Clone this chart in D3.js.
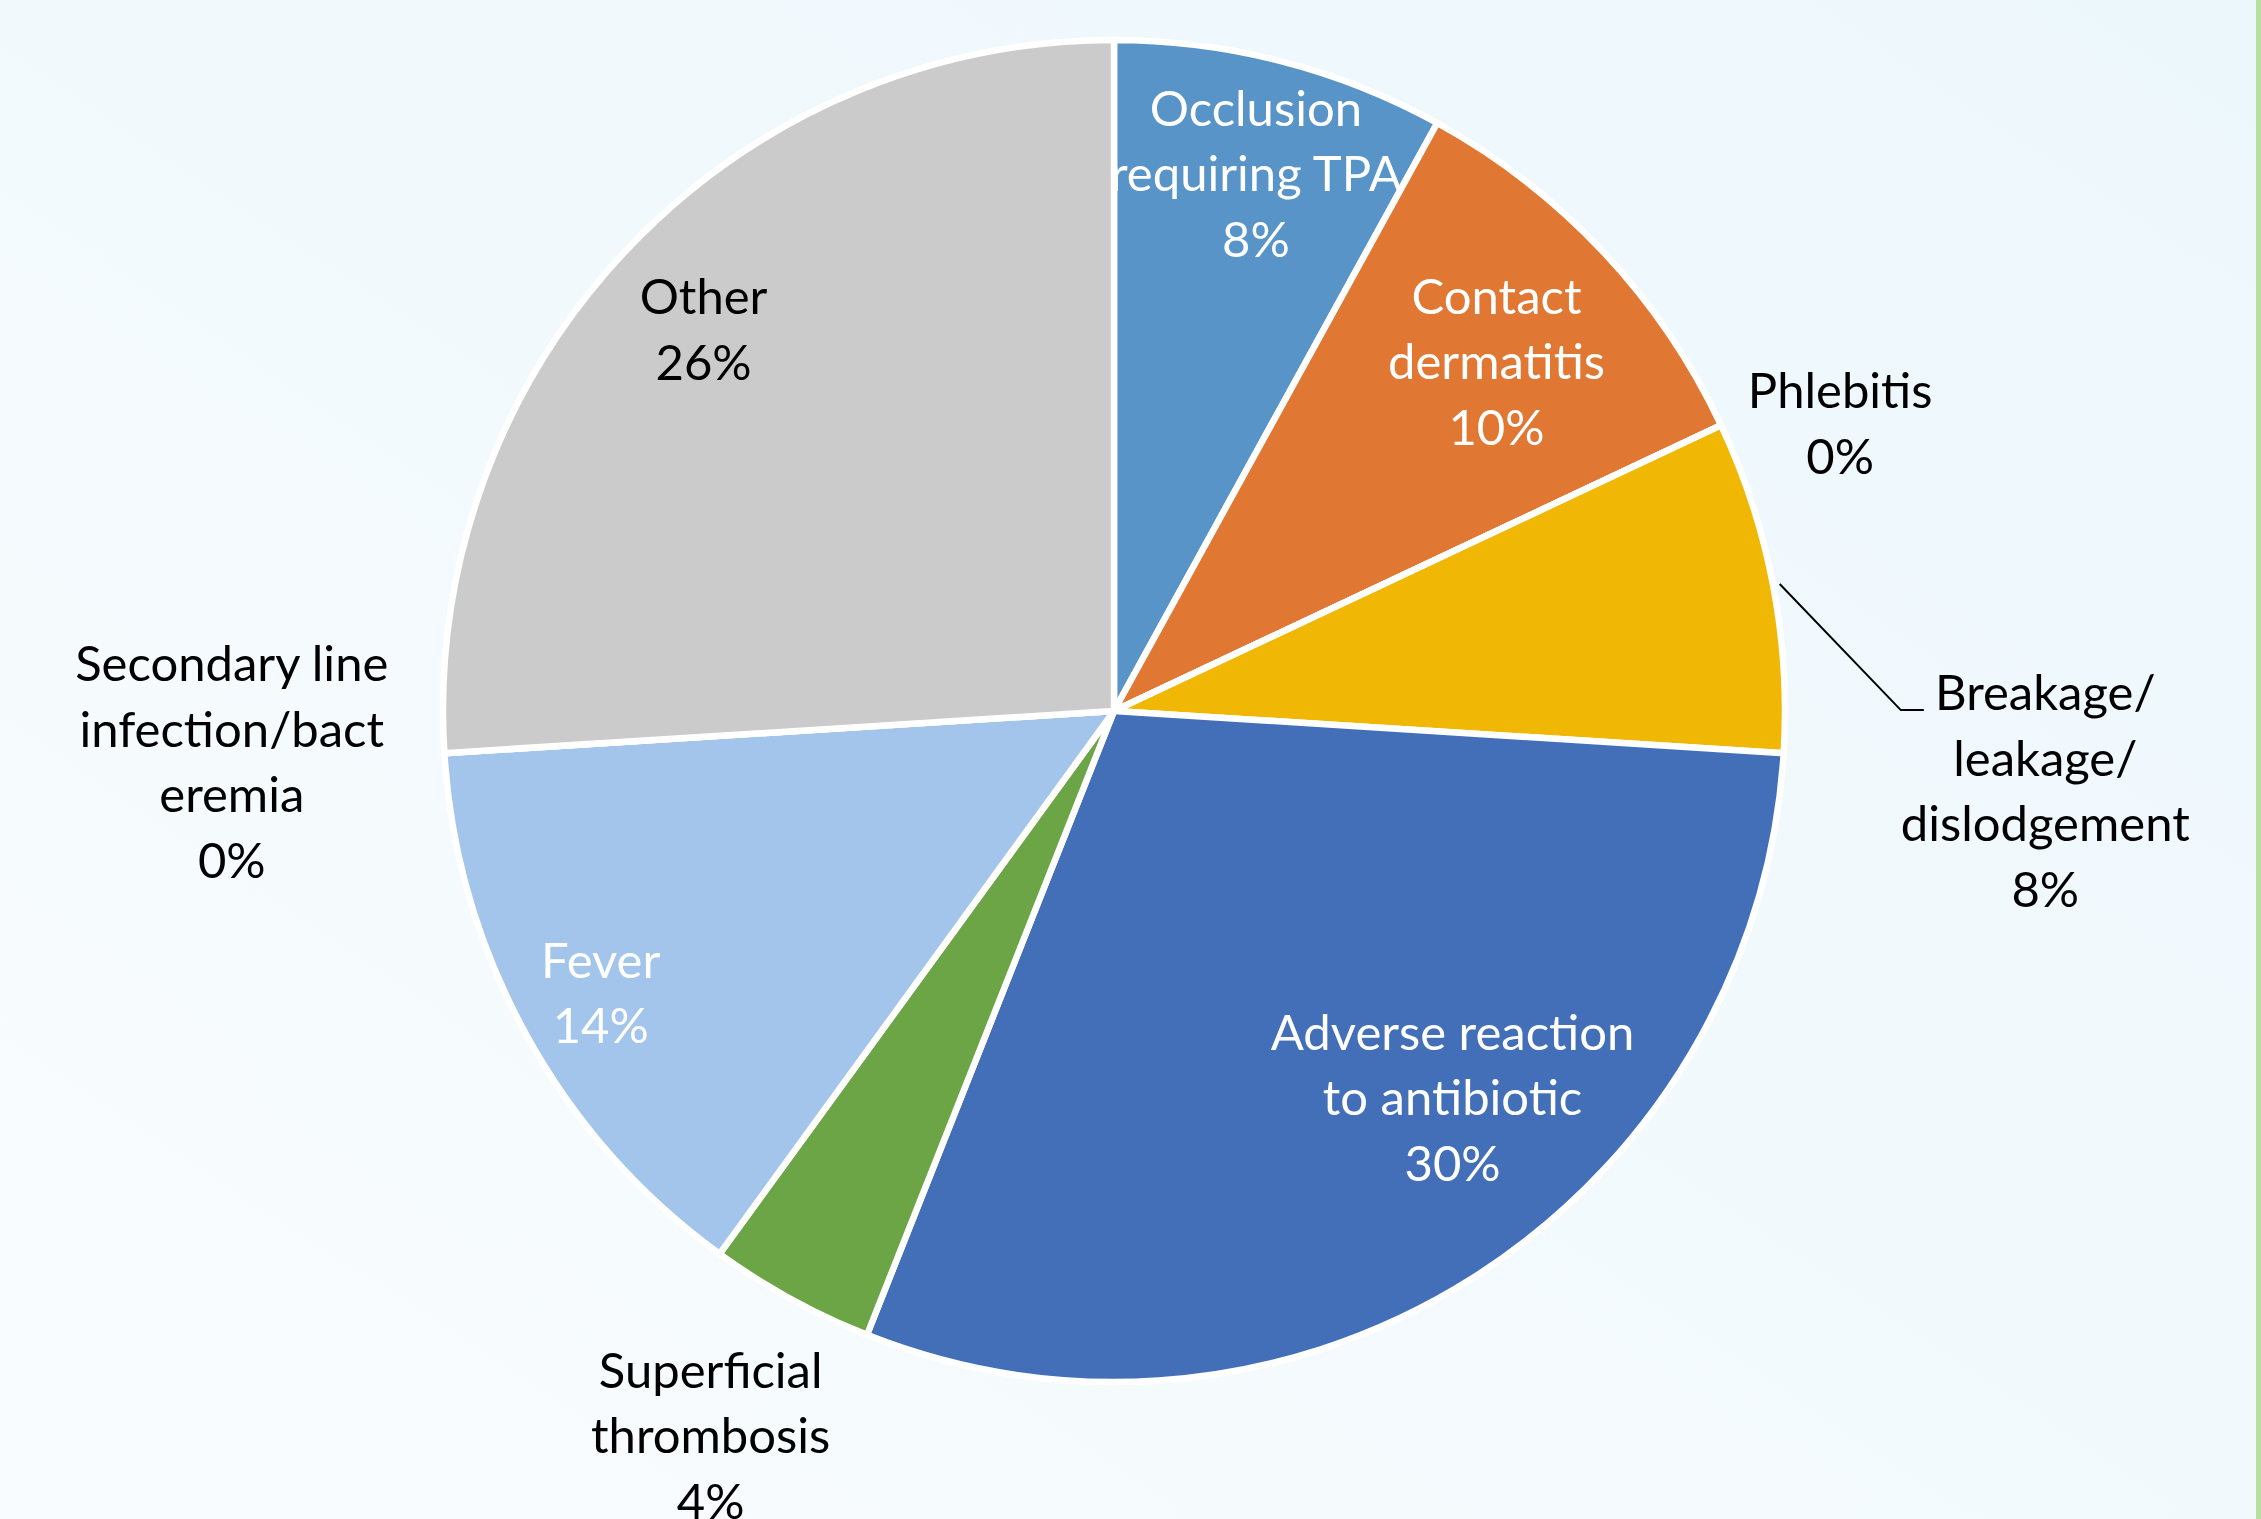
<!DOCTYPE html>
<html>
<head>
<meta charset="utf-8">
<script src="https://cdn.jsdelivr.net/npm/d3@7"></script>
<style>
  html, body { margin: 0; padding: 0; overflow: hidden; background: #f4fafd; }
  svg { display: block; }
  .label { font-family: Lato, "Noto Sans", sans-serif; font-size: 49px; }
</style>
</head>
<body>
<svg id="chart"></svg>
<script>
// slices, clockwise from 12 o'clock
const categories = ["Occlusion requiring TPA", "Contact dermatitis", "Phlebitis",
  "Breakage/leakage/dislodgement", "Adverse reaction to antibiotic",
  "Superficial thrombosis", "Fever", "Secondary line infection/bacteremia", "Other"];
const labelLines = [
  ["Occlusion", "requiring TPA"],
  ["Contact", "dermatitis"],
  ["Phlebitis"],
  ["Breakage/", "leakage/", "dislodgement"],
  ["Adverse reaction", "to antibiotic"],
  ["Superficial", "thrombosis"],
  ["Fever"],
  ["Secondary line", "infection/bact", "eremia"],
  ["Other"]
];
const counts = [4, 5, 0, 4, 15, 2, 7, 0, 13];
const colors = ["#5894c7", "#e07732", "#a5a5a5", "#f0b705", "#436fb9",
  "#6ba545", "#a3c5ec", "#999999", "#cbcbcb"];

// label layout: angle shift from slice middle (deg), distance from centre (x radius)
const labelShift = [0.4, 0.8, 3.6, 15.7, -8.8, 0.3, 0, 0.3, -0.3];
const labelRadius = [0.828, 0.772, 1.164, 1.393, 0.766, 1.236, 0.873, 1.317, 0.835];
const labelColor = ["#fff", "#fff", "#000", "#000", "#fff", "#000", "#fff", "#000", "#000"];
const leaderFor = [3]; // labels that get a leader line

const width = 2261, height = 1519;
const cx = 1114, cy = 711, R = 671;
const lineHeight = 65.5, halfCap = 17.5;

const svg = d3.select("#chart").attr("width", width).attr("height", height);

// background
let defs = svg.append("defs");
let grad = defs.append("linearGradient").attr("id", "bg")
  .attr("x1", "0").attr("y1", "1").attr("x2", "1").attr("y2", "0");
grad.append("stop").attr("offset", "0").attr("stop-color", "#f9fcfe");
grad.append("stop").attr("offset", "1").attr("stop-color", "#ecf7fc");
svg.append("rect").attr("width", width).attr("height", height).attr("fill", "url(#bg)");
svg.append("rect").attr("x", 2256).attr("width", 5).attr("height", height).attr("fill", "#b7df9f");

let total = d3.sum(counts);
let pie = d3.pie().sort(null).value(d => d);
let arcs = pie(counts);

let arc = d3.arc().innerRadius(0).outerRadius(R);

let g = svg.append("g").attr("transform", "translate(" + cx + "," + cy + ")");

g.selectAll("path.slice")
  .data(arcs)
  .enter().append("path")
  .attr("class", "slice")
  .attr("d", arc)
  .attr("fill", (d, i) => colors[i])
  .attr("stroke", "#fff")
  .attr("stroke-width", 6.5)
  .attr("stroke-linejoin", "round");

function polar(angle, r) {
  return [r * Math.sin(angle), -r * Math.cos(angle)];
}

arcs.forEach((d, i) => {
  let mid = (d.startAngle + d.endAngle) / 2;
  let a = mid + labelShift[i] * Math.PI / 180;
  let [lx, ly] = polar(a, R * labelRadius[i]);
  let lines = labelLines[i].concat([Math.round(d.value / total * 100) + "%"]);
  let top = ly - (lines.length - 1) / 2 * lineHeight + halfCap;

  let label = g.append("text")
    .attr("class", "label")
    .attr("text-anchor", "middle")
    .attr("fill", labelColor[i]);
  lines.forEach((t, j) => {
    label.append("tspan").attr("x", lx).attr("y", top + j * lineHeight).text(t);
  });

  if (leaderFor.includes(i)) {
    let box = label.node().getBBox();
    let start = polar(mid, R * 1.01);
    let pts = [start, [box.x, top], [box.x + 23, top]];
    g.append("path")
      .attr("d", d3.line()(pts))
      .attr("fill", "none")
      .attr("stroke", "#000")
      .attr("stroke-width", 2);
  }
});
</script>
</body>
</html>
